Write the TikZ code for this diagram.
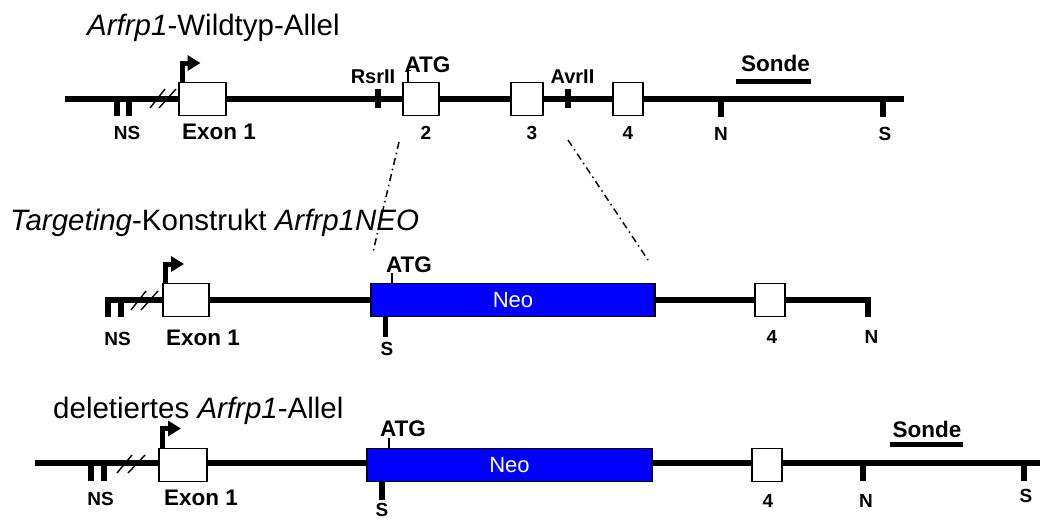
\documentclass[tikz,border=0pt]{standalone}
\usepackage{fontspec}
\setmainfont{Liberation Sans}
\usetikzlibrary{arrows.meta}
\tikzset{
  backbone/.style={line width=5.5pt},
  site/.style={line width=5.5pt},
  exonbox/.style={draw, line width=1.5pt, fill=white, minimum height=33pt,
    inner sep=0pt, outer sep=0pt},
  neobox/.style={exonbox, fill=blue, text=white,
    font=\fontsize{22}{24}\selectfont},
  promoter/.style={line width=5pt, -{Triangle[length=13pt,width=15pt]}},
  cutmark/.style={line width=1.4pt},
  atgmark/.style={line width=1.2pt},
  zoomline/.style={line width=1.5pt, dash pattern=on 7pt off 4pt on 1.5pt off 4pt},
  title/.style={font=\fontsize{29.5}{32}\selectfont, inner sep=0pt, anchor=base west},
  lab/.style={font=\fontsize{19}{21}\selectfont\bfseries, inner sep=0pt, anchor=base},
  biglab/.style={font=\fontsize{22.5}{24}\selectfont\bfseries, inner sep=0pt, anchor=base},
  enzlab/.style={font=\fontsize{20}{22}\selectfont\bfseries, inner sep=0pt, anchor=base},
  probe/.style={line width=5pt},
}
\begin{document}
\begin{tikzpicture}[x=1pt,y=-1pt]
\useasboundingbox (0,0) rectangle (1048,520);

% ---------------- wild-type allele ----------------
\node[title] (t1) at (87,35) {\textit{Arfrp1}-Wildtyp-Allel};
\draw[backbone] (65,99) -- (904,99);
\draw[site] (117,99) -- (117,116);
\draw[site] (129,99) -- (129,116);
\draw[site] (378,89) -- (378,108);
\draw[site] (568,89) -- (568,108);
\draw[site] (721,99) -- (721,117);
\draw[site] (883,99) -- (883,117);
\draw[cutmark] (150,108) -- (165,89);
\draw[cutmark] (159,108) -- (176,89);
\node[exonbox, minimum width=47pt] (w1) at (202.5,99) {};
\node[exonbox, minimum width=36pt] (w2) at (421,99) {};
\node[exonbox, minimum width=32pt] (w3) at (527,99) {};
\node[exonbox, minimum width=30pt] (w4) at (628,99) {};
\draw[promoter] ([xshift=3pt]w1.north west) |- ++(18.5,-19.5);
\draw[atgmark] ([xshift=5pt]w2.north west) -- ++(0,-12) ++(-2.5,0) -- ++(5,0);
\draw[probe] (736,81) -- (811,81);

\node[lab] (w1ns) at (127,139) {NS};
\node[biglab] (w1ex) at (219,139) {Exon 1};
\node[lab] (w2n) at (426,139) {2};
\node[lab] (w3n) at (532,139) {3};
\node[lab] (w4n) at (628,139) {4};
\node[lab] (wN) at (721,140) {N};
\node[lab] (wS) at (885,140) {S};
\node[enzlab] (rsr) at (373,83) {RsrII};
\node[enzlab] (avr) at (572.5,83) {AvrII};
\node[biglab] (watg) at (427.5,72) {ATG};
\node[biglab] (wsonde) at (775.5,71) {Sonde};

% ---------------- targeting construct ----------------
\node[title] (t2) at (10,230) {\textit{Targeting}-Konstrukt \textit{Arfrp1NEO}};
\draw[backbone] (105,300) -- (871,300);
\draw[site] (108,300) -- (108,317);
\draw[site] (121,300) -- (121,317);
\draw[site] (868,300) -- (868,317);
\draw[site] (385.5,300) -- (385.5,337);
\draw[cutmark] (131,310) -- (146,291);
\draw[cutmark] (141,310) -- (158,291);
\node[exonbox, minimum width=46pt] (c1) at (186,300) {};
\node[neobox, minimum width=284pt] (cneo) at (513,300) {Neo};
\node[exonbox, minimum width=30pt] (c4) at (770,300) {};
\draw[promoter] ([xshift=2.5pt]c1.north west) |- ++(18.5,-19.5);
\draw[atgmark] ([xshift=21pt]cneo.north west) -- ++(0,-11);

\node[lab] (c1ns) at (117.5,345) {NS};
\node[biglab] (c1ex) at (203,345) {Exon 1};
\node[lab] (cS) at (387,355) {S};
\node[lab] (c4n) at (772,343) {4};
\node[lab] (cN) at (871.5,343) {N};
\node[biglab] (catg) at (409,272) {ATG};

% ---------------- deleted allele ----------------
\node[title] (t3) at (53,418) {deletiertes \textit{Arfrp1}-Allel};
\draw[backbone] (35,463) -- (1040,463);
\draw[site] (91,463) -- (91,481);
\draw[site] (104,463) -- (104,481);
\draw[site] (863,463) -- (863,481);
\draw[site] (1024,463) -- (1024,481);
\draw[site] (382,463) -- (382,500);
\draw[cutmark] (117,473) -- (132,455);
\draw[cutmark] (128,473) -- (145,455);
\node[exonbox, minimum width=48pt] (d1) at (183,465) {};
\node[neobox, minimum width=285pt] (dneo) at (509.5,465) {Neo};
\node[exonbox, minimum width=30pt] (d4) at (767,465) {};
\draw[promoter] ([xshift=3.5pt]d1.north west) |- ++(18.5,-20);
\draw[atgmark] ([xshift=22pt]dneo.north west) -- ++(0,-11);
\draw[probe] (890,444.5) -- (963,444.5);

\node[lab] (d1ns) at (100.5,505) {NS};
\node[biglab] (d1ex) at (201,505) {Exon 1};
\node[lab] (dS) at (382,516.5) {S};
\node[lab] (d4n) at (768,507) {4};
\node[lab] (dN) at (866,507) {N};
\node[lab] (dS2) at (1026,502) {S};
\node[biglab] (datg) at (403,436) {ATG};
\node[biglab] (dsonde) at (927,437) {Sonde};

% ---------------- region replaced by the cassette ----------------
\coordinate (zl1) at (399,142);
\coordinate (zl2) at (373,252);
\coordinate (zr1) at (568,140);
\coordinate (zr2) at (648,260);
\draw[zoomline] (zl1) -- (zl2);
\draw[zoomline] (zr1) -- (zr2);
\end{tikzpicture}
\end{document}
